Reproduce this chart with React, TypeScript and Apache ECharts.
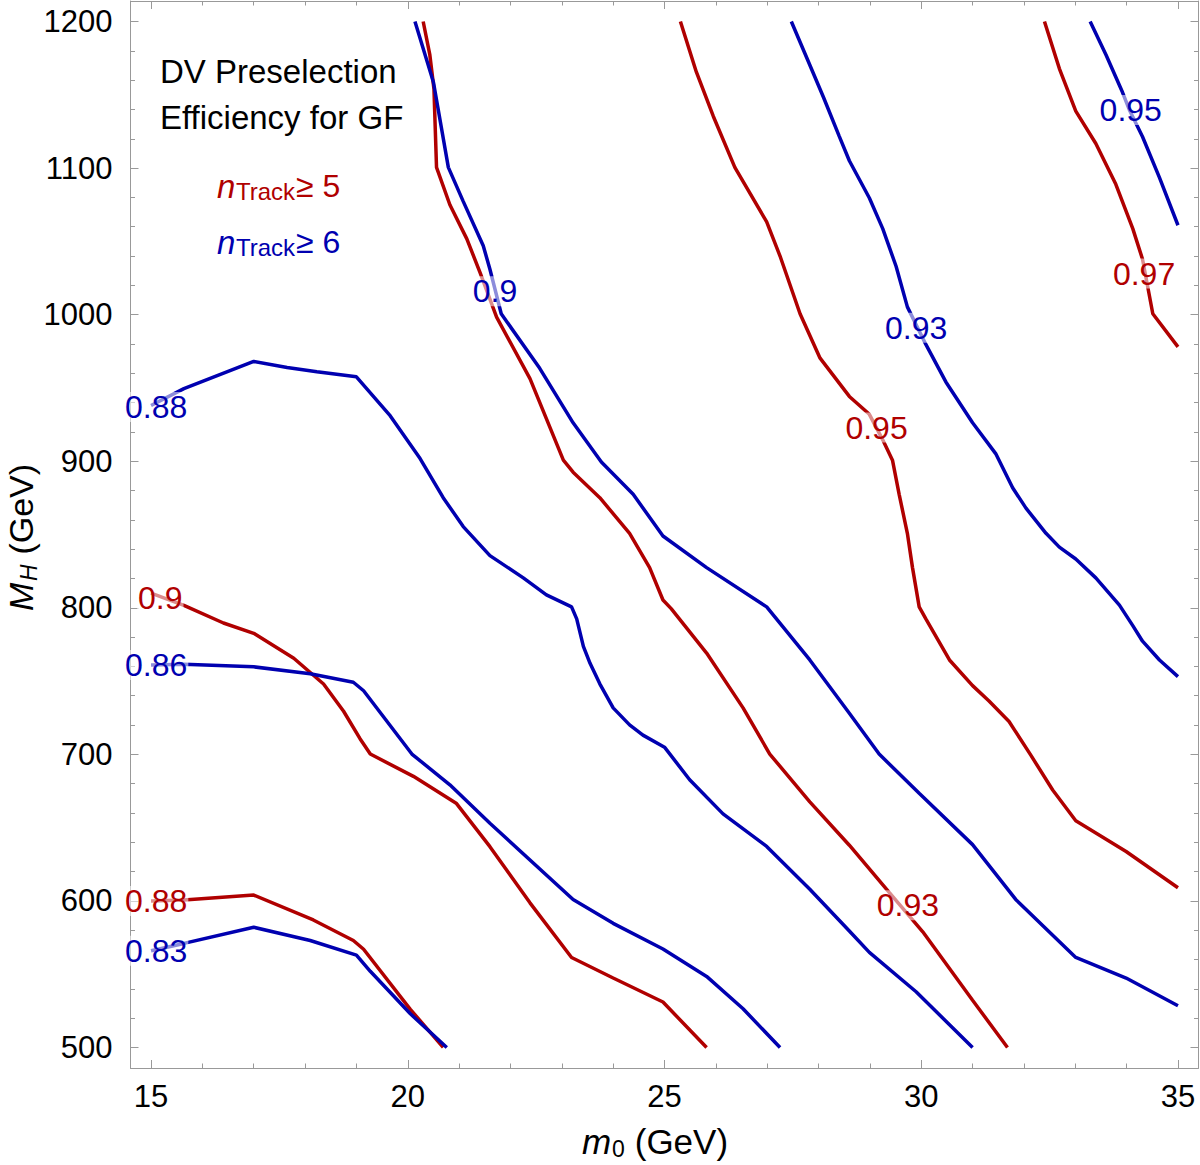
import React, { useEffect, useRef } from 'react';
import * as echarts from 'echarts';

// ---------- axes ----------
const X_RANGE = [14.6, 35.4];
const Y_RANGE = [486, 1214];
const X_MAJOR_TICKS = [15, 20, 25, 30, 35];
const X_MINOR_TICKS = [16, 17, 18, 19, 21, 22, 23, 24, 26, 27, 28, 29, 31, 32, 33, 34];
const Y_MAJOR_TICKS = [500, 600, 700, 800, 900, 1000, 1100, 1200];
const Y_MINOR_TICKS = [
  520, 540, 560, 580, 620, 640, 660, 680, 720, 740, 760, 780, 820, 840, 860, 880,
  920, 940, 960, 980, 1020, 1040, 1060, 1080, 1120, 1140, 1160, 1180,
];

// ---------- contours: nTrack >= 5 (red) ----------
const RED_088 = [
  [15, 600], [15.64, 600.6], [17, 604], [18.16, 587], [18.94, 573], [19.14, 567],
  [20.05, 526], [20.69, 500],
];
const RED_090 = [
  [15, 810], [15.64, 801.7], [16.41, 789.6], [17, 782.6], [17.78, 765.6], [18.36, 748],
  [18.75, 729.4], [19.07, 710.7], [19.27, 700.2], [20.11, 685], [20.95, 666.4], [21.6, 637],
  [22.38, 598.7], [23.19, 561.4], [24.0, 547.4], [24.97, 531], [25.82, 500],
];
const RED_093 = [
  [20.3, 1200], [20.43, 1177.2], [20.51, 1154], [20.56, 1100.5], [20.82, 1075], [21.15, 1051.7],
  [21.41, 1028.5], [21.73, 998.3], [22.38, 956.4], [23.03, 900.7], [23.22, 892.5], [23.74, 875.1],
  [24.32, 850.8], [24.71, 827.4], [24.97, 805.3], [25.13, 799.4], [25.82, 769.1], [26.53, 731.7],
  [27.05, 700.2], [27.83, 667.6], [28.6, 638], [29.38, 605.7], [30.03, 578.9], [31.0, 532.2],
  [31.68, 500],
];
const RED_095 = [
  [25.31, 1200], [25.62, 1165.6], [25.95, 1135.4], [26.37, 1100.5], [26.99, 1063.3], [27.25, 1040],
  [27.64, 1000.6], [28.03, 970.3], [28.6, 944.2], [28.99, 932], [29.25, 914.6], [29.44, 900.7],
  [29.57, 877.4], [29.73, 850.8], [29.83, 827.4], [29.96, 800.6], [30.09, 792.4], [30.55, 764.4],
  [31.0, 746.9], [31.32, 736.4], [31.71, 722.4], [32.14, 699.1], [32.56, 675.7], [33.01, 654.7],
  [33.99, 633.7], [35, 609],
];
const RED_097 = [
  [32.4, 1200], [32.69, 1167.9], [33.01, 1138.9], [33.4, 1116.8], [33.79, 1088.9], [34.12, 1058.7],
  [34.31, 1037.8], [34.51, 1000.6], [35, 978],
];

// ---------- contours: nTrack >= 6 (blue) ----------
const BLUE_083 = [
  [15, 566], [15.64, 571], [17, 582], [18.1, 573], [19, 563], [19.27, 552], [20.05, 523],
  [20.76, 500],
];
const BLUE_086 = [
  [15, 761], [15.64, 761.4], [17, 759.7], [18.1, 755], [18.94, 749.2], [19.14, 743.4],
  [20.08, 700.2], [20.82, 679.2], [21.6, 653], [23.22, 601], [24.0, 584.7], [24.97, 567.2],
  [25.82, 548.5], [26.53, 526.4], [27.25, 500],
];
const BLUE_088 = [
  [15, 938], [15.64, 949.5], [17, 968.1], [17.65, 963.9], [18.23, 961.1], [19, 957.6],
  [19.66, 930.9], [20.24, 901.8], [20.69, 875.1], [21.08, 855.4], [21.6, 835.6], [22.25, 820.4],
  [22.7, 808.8], [23.19, 800.6], [23.29, 792.4], [23.42, 773.7], [23.55, 762.1], [23.74, 748.1],
  [24.0, 731.7], [24.32, 720.1], [24.58, 713.1], [25, 704.9], [25.49, 682.7], [26.14, 659.4],
  [26.99, 637.2], [27.83, 608], [28.6, 579.5], [28.99, 564.9], [29.9, 538], [31.0, 500],
];
const BLUE_090 = [
  [20.14, 1200], [20.5, 1158.6], [20.79, 1100.5], [21.08, 1077.3], [21.47, 1047], [21.6, 1031],
  [21.82, 1000.6], [22.57, 963.4], [23.22, 926.2], [23.77, 899.5], [24.39, 877.4], [24.97, 849],
  [25.82, 827.4], [26.99, 800.6], [27.83, 764.4], [28.6, 728], [29.18, 700.2], [29.96, 673.4],
  [31.0, 638.4], [31.84, 601], [33.01, 561.4], [33.99, 547.4], [35, 528.5],
];
const BLUE_093 = [
  [27.47, 1200], [27.83, 1170.3], [28.1, 1148], [28.4, 1122], [28.6, 1105], [28.99, 1079.6],
  [29.25, 1058.7], [29.51, 1033], [29.73, 1005.3], [30.09, 979.7], [30.48, 954.1], [31.0, 926.2],
  [31.45, 905.2], [31.78, 881.9], [32.04, 868], [32.43, 850.8], [32.69, 841.4], [33.01, 833.3],
  [33.4, 820.4], [33.86, 801.8], [34.12, 787.8], [34.31, 777.2], [34.64, 764.4], [35, 753],
];
const BLUE_095 = [
  [33.29, 1200], [33.6, 1177.2], [33.92, 1151.7], [34.05, 1140], [34.31, 1121.4], [34.64, 1093.5],
  [35, 1061],
];

const RED_CONTOURS = [RED_088, RED_090, RED_093, RED_095, RED_097];
const BLUE_CONTOURS = [BLUE_083, BLUE_086, BLUE_088, BLUE_090, BLUE_093, BLUE_095];

// contour labels
const RED_LABEL_TEXT = ['0.88', '0.9', '0.93', '0.95', '0.97'];
const RED_LABEL_POS = [[15.1, 600], [15.18, 807], [29.74, 597], [29.13, 923], [34.34, 1028]];
const BLUE_LABEL_TEXT = ['0.83', '0.86', '0.88', '0.9', '0.93', '0.95'];
const BLUE_LABEL_POS = [[15.1, 566], [15.1, 761], [15.1, 937], [21.7, 1016], [29.9, 991], [34.08, 1139.6]];

const TITLE_LINES = ['DV Preselection', 'Efficiency for GF'];
const LEGEND_CUTS = ['≥ 5', '≥ 6'];

const RED = '#b00000';
const BLUE = '#0000b0';
const FRAME = '#999999';
const FONT = '"Liberation Sans", Arial, Helvetica, sans-serif';

function txt(x: number, y: number, text: string, size: number, color: string, extra: any = {}) {
  return {
    type: 'text',
    x,
    y,
    z: 100,
    style: {
      text,
      fill: color,
      fontSize: size,
      fontFamily: FONT,
      fontStyle: extra.italic ? 'italic' : 'normal',
      align: extra.align || 'left',
      textAlign: extra.align || 'left',
      verticalAlign: 'middle',
      textVerticalAlign: 'middle',
    },
  };
}

export default function App() {
  const ref = useRef<HTMLDivElement>(null);

  useEffect(() => {
    document.body.style.margin = '0';
    if (!ref.current) return;
    const chart = echarts.init(ref.current, null, { renderer: 'svg' });

    const tickLine = { color: FRAME, width: 1 };
    const plain = (v: number) => String(Math.round(v));
    const mkX = (position: string, values: number[], len: number, showLine: boolean, labels: boolean) => ({
      type: 'value',
      position,
      min: X_RANGE[0],
      max: X_RANGE[1],
      axisLine: { show: showLine, onZero: false, lineStyle: { color: FRAME, width: 1 } },
      axisTick: { show: true, inside: true, length: len, customValues: values, lineStyle: tickLine },
      axisLabel: labels
        ? { show: true, customValues: values, formatter: plain, margin: 13, fontSize: 31, color: '#000', fontFamily: FONT }
        : { show: false },
      splitLine: { show: false },
    });
    const mkY = (position: string, values: number[], len: number, showLine: boolean, labels: boolean) => ({
      type: 'value',
      position,
      min: Y_RANGE[0],
      max: Y_RANGE[1],
      axisLine: { show: showLine, onZero: false, lineStyle: { color: FRAME, width: 1 } },
      axisTick: { show: true, inside: true, length: len, customValues: values, lineStyle: tickLine },
      axisLabel: labels
        ? { show: true, customValues: values, formatter: plain, margin: 18, fontSize: 31, color: '#000', fontFamily: FONT }
        : { show: false },
      splitLine: { show: false },
    });

    const lineSeries = (data: number[][], color: string) => ({
      type: 'line',
      xAxisIndex: 0,
      yAxisIndex: 0,
      data,
      showSymbol: false,
      symbol: 'none',
      smooth: false,
      lineStyle: { color, width: 3.5 },
      z: 3,
      silent: true,
    });

    const labelSeries = (texts: string[], pos: number[][], color: string) => ({
      type: 'scatter',
      xAxisIndex: 0,
      yAxisIndex: 0,
      symbolSize: 1,
      itemStyle: { color: 'rgba(255,255,255,0)', opacity: 1 },
      z: 10,
      silent: true,
      data: pos.map((p, i) => ({ value: p, name: texts[i] })),
      label: {
        show: true,
        position: 'inside',
        formatter: (p: any) => p.name,
        color,
        opacity: 1,
        textBorderWidth: 0,
        fontSize: 32,
        fontFamily: FONT,
        backgroundColor: 'rgba(255,255,255,0.55)',
        padding: [0, 1],
        lineHeight: 30,
      },
    });

    const legendRow = (y: number, color: string, cut: string) => [
      txt(217, y, 'n', 33, color, { italic: true }),
      txt(236, y + 5, 'Track', 24, color),
      txt(296, y, cut, 32, color),
    ];

    const xName = {
      type: 'group',
      x: 655,
      y: 1141,
      children: [
        txt(-73, 0, 'm', 35, '#000', { italic: true }),
        txt(-43, 8, '0', 23, '#000'),
        txt(-30, 0, ' (GeV)', 35, '#000'),
      ],
    };
    const yName = {
      type: 'group',
      x: 21,
      y: 536,
      rotation: Math.PI / 2,
      children: [
        txt(-75, 0, 'M', 34, '#000', { italic: true }),
        txt(-45, 8, 'H', 23, '#000', { italic: true }),
        txt(-28, 0, ' (GeV)', 34, '#000'),
      ],
    };

    chart.setOption({
      animation: false,
      backgroundColor: '#fff',
      grid: { left: 130.5, top: 1, width: 1068, height: 1067, containLabel: false },
      xAxis: [
        mkX('bottom', X_MAJOR_TICKS, 8, true, true),
        mkX('bottom', X_MINOR_TICKS, 4.5, false, false),
        mkX('top', X_MAJOR_TICKS, 8, true, false),
        mkX('top', X_MINOR_TICKS, 4.5, false, false),
      ],
      yAxis: [
        mkY('left', Y_MAJOR_TICKS, 8, true, true),
        mkY('left', Y_MINOR_TICKS, 4.5, false, false),
        mkY('right', Y_MAJOR_TICKS, 8, true, false),
        mkY('right', Y_MINOR_TICKS, 4.5, false, false),
      ],
      series: [
        ...RED_CONTOURS.map((d) => lineSeries(d, RED)),
        ...BLUE_CONTOURS.map((d) => lineSeries(d, BLUE)),
        labelSeries(RED_LABEL_TEXT, RED_LABEL_POS, RED),
        labelSeries(BLUE_LABEL_TEXT, BLUE_LABEL_POS, BLUE),
      ],
      graphic: [
        txt(160, 71, TITLE_LINES[0], 33, '#000'),
        txt(160, 117.5, TITLE_LINES[1], 33, '#000'),
        ...legendRow(186, RED, LEGEND_CUTS[0]),
        ...legendRow(242, BLUE, LEGEND_CUTS[1]),
        xName,
        yName,
      ],
    });

    return () => chart.dispose();
  }, []);

  return (
    <div
      ref={ref}
      style={{ position: 'absolute', left: 0, top: 0, width: 1200, height: 1165 }}
    />
  );
}
